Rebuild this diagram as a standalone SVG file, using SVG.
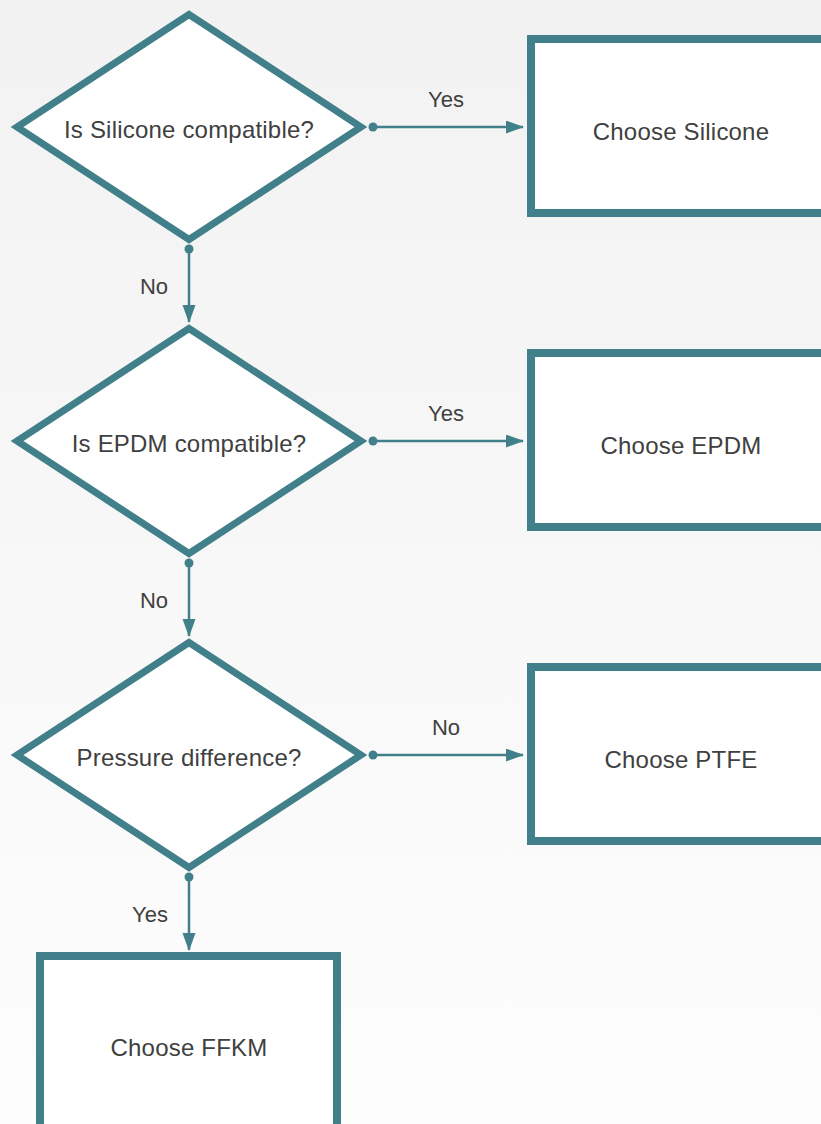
<svg xmlns="http://www.w3.org/2000/svg" width="821" height="1124" viewBox="0 0 821 1124">
<defs>
<linearGradient id="bg" x1="0" y1="0" x2="0" y2="1">
<stop offset="0" stop-color="#f2f2f2"/>
<stop offset="1" stop-color="#fdfdfd"/>
</linearGradient>
<marker id="arr" markerWidth="18" markerHeight="14" refX="17" refY="6.5" orient="auto" markerUnits="userSpaceOnUse">
<path d="M0,0 L18,6.5 L0,13 Z" fill="#41808b"/>
</marker>
<marker id="dot" markerWidth="10" markerHeight="10" refX="5" refY="5" orient="auto" markerUnits="userSpaceOnUse">
<circle cx="5" cy="5" r="4.5" fill="#41808b"/>
</marker>
</defs>
<style>
.dia{fill:#fff;stroke:#41808b;stroke-width:7;stroke-linejoin:miter;stroke-miterlimit:10}
.box{fill:#fff;stroke:#41808b;stroke-width:8}
.t{font-family:"Liberation Sans",Arial,Helvetica,sans-serif;font-size:24px;letter-spacing:0.2px;fill:#404040;text-anchor:middle}
.lbl{font-family:"Liberation Sans",Arial,Helvetica,sans-serif;font-size:22px;fill:#404040;text-anchor:middle}
.c{fill:none;stroke:#41808b;stroke-width:2.5;marker-start:url(#dot);marker-end:url(#arr)}
</style>
<rect x="0" y="0" width="821" height="1124" fill="url(#bg)"/>
<g id="connectors">
<path class="c" d="M373,127 L523,127"/>
<path class="c" d="M189,249 L189,322"/>
<path class="c" d="M373,441 L523,441"/>
<path class="c" d="M189,563 L189,636"/>
<path class="c" d="M373,755 L523,755"/>
<path class="c" d="M189,877 L189,950"/>
<text class="lbl" x="446" y="107">Yes</text>
<text class="lbl" x="154" y="294">No</text>
<text class="lbl" x="446" y="421">Yes</text>
<text class="lbl" x="154" y="608">No</text>
<text class="lbl" x="446" y="735">No</text>
<text class="lbl" x="150" y="922">Yes</text>
</g>
<g id="q1">
<polygon class="dia" points="189,14.5 361,127 189,239.5 17,127"/>
<text class="t" x="189" y="138">Is Silicone compatible?</text>
</g>
<g id="silicone">
<rect class="box" x="531" y="39" width="298" height="174"/>
<text class="t" x="681" y="140">Choose Silicone</text>
</g>
<g id="q2">
<polygon class="dia" points="189,328.5 361,441 189,553.5 17,441"/>
<text class="t" x="189" y="452">Is EPDM compatible?</text>
</g>
<g id="epdm">
<rect class="box" x="531" y="353" width="298" height="174"/>
<text class="t" x="681" y="454">Choose EPDM</text>
</g>
<g id="q3">
<polygon class="dia" points="189,642.5 361,755 189,867.5 17,755"/>
<text class="t" x="189" y="766">Pressure difference?</text>
</g>
<g id="ptfe">
<rect class="box" x="531" y="667" width="298" height="174"/>
<text class="t" x="681" y="768">Choose PTFE</text>
</g>
<g id="ffkm">
<rect class="box" x="40" y="956" width="297" height="174"/>
<text class="t" x="189" y="1056">Choose FFKM</text>
</g>
</svg>
